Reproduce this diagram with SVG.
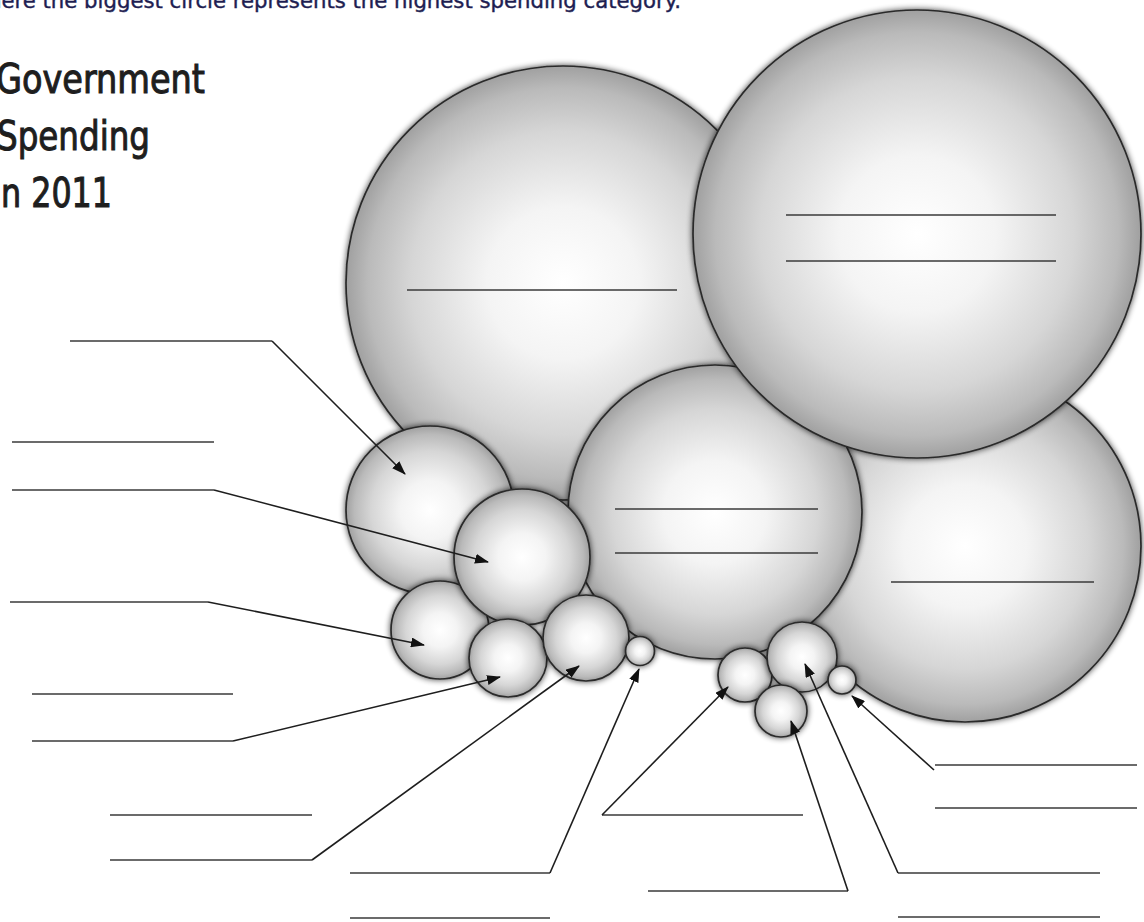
<svg xmlns="http://www.w3.org/2000/svg" width="1144" height="922" viewBox="0 0 1144 922">
<style>
.bub{fill:url(#g);stroke:#2a2a2a;stroke-width:1.7;filter:url(#sh)}
.slot{stroke:#3a3a3a;stroke-width:1.6;fill:none}
.con{stroke:#1e1e1e;stroke-width:1.6;fill:none;marker-end:url(#ah)}
.title{font-family:"DejaVu Sans Condensed","DejaVu Sans","Liberation Sans",sans-serif;font-stretch:condensed;font-size:41px;fill:#1e1e1e;stroke:#1e1e1e;stroke-width:1}
.top{font-family:"DejaVu Sans","Liberation Sans",sans-serif;font-size:21px;fill:#1e1e52;stroke:#1e1e52;stroke-width:0.4}
</style>
<defs>
<radialGradient id="g" cx="50%" cy="50%" r="50%">
<stop offset="0" stop-color="#ffffff"/>
<stop offset="0.35" stop-color="#f4f4f4"/>
<stop offset="0.7" stop-color="#d6d6d6"/>
<stop offset="0.9" stop-color="#bababa"/>
<stop offset="1" stop-color="#a0a0a0"/>
</radialGradient>
<filter id="sh" x="-30%" y="-30%" width="160%" height="160%">
<feGaussianBlur in="SourceAlpha" stdDeviation="3"/>
<feComponentTransfer><feFuncA type="linear" slope="0.75"/></feComponentTransfer>
<feMerge><feMergeNode/><feMergeNode in="SourceGraphic"/></feMerge>
</filter>
<marker id="ah" markerUnits="userSpaceOnUse" markerWidth="14" markerHeight="10" refX="13" refY="5" orient="auto">
<path d="M0,0 L14,5 L0,10 Z" fill="#111"/>
</marker>
</defs>
<rect width="1144" height="922" fill="#ffffff"/>
<text class="top" x="-12" y="8" textLength="693" lengthAdjust="spacingAndGlyphs">here the biggest circle represents the highest spending category.</text>
<g id="title">
<text class="title" x="-4" y="93" textLength="209" lengthAdjust="spacingAndGlyphs">Government</text>
<text class="title" x="-3" y="150" textLength="153" lengthAdjust="spacingAndGlyphs">Spending</text>
<text class="title" x="1" y="207" textLength="111" lengthAdjust="spacingAndGlyphs">n 2011</text>
</g>
<g id="circle-a"><circle class="bub" cx="563" cy="283" r="217"/><line class="slot" x1="407" y1="290" x2="677" y2="290"/></g>
<g id="circle-c"><circle class="bub" cx="965" cy="546" r="176"/><line class="slot" x1="891" y1="582" x2="1094" y2="582"/></g>
<g id="circle-d"><circle class="bub" cx="715" cy="512" r="147"/><line class="slot" x1="615" y1="509" x2="818" y2="509"/><line class="slot" x1="615" y1="553" x2="818" y2="553"/></g>
<g id="circle-b"><circle class="bub" cx="917" cy="234" r="224"/><line class="slot" x1="786" y1="215" x2="1056" y2="215"/><line class="slot" x1="786" y1="261" x2="1056" y2="261"/></g>
<g id="circle-e"><circle class="bub" cx="430" cy="510" r="84"/></g>
<g id="circle-g"><circle class="bub" cx="440" cy="630" r="49"/></g>
<g id="circle-f"><circle class="bub" cx="522" cy="557" r="68"/></g>
<g id="circle-h"><circle class="bub" cx="508" cy="658" r="39"/></g>
<g id="circle-i"><circle class="bub" cx="586" cy="638" r="43"/></g>
<g id="circle-j"><circle class="bub" cx="640" cy="651" r="14.5"/></g>
<g id="circle-k"><circle class="bub" cx="745" cy="675" r="27"/></g>
<g id="circle-l"><circle class="bub" cx="802" cy="657" r="35"/></g>
<g id="circle-m"><circle class="bub" cx="781" cy="711" r="26"/></g>
<g id="circle-n"><circle class="bub" cx="842" cy="680" r="14"/></g>
<g id="label-slots">
<line class="slot" x1="70" y1="341" x2="272" y2="341"/>
<line class="slot" x1="12" y1="442" x2="214" y2="442"/>
<line class="slot" x1="12" y1="490" x2="214" y2="490"/>
<line class="slot" x1="10" y1="602" x2="208" y2="602"/>
<line class="slot" x1="32" y1="694" x2="233" y2="694"/>
<line class="slot" x1="32" y1="741" x2="233" y2="741"/>
<line class="slot" x1="110" y1="815" x2="312" y2="815"/>
<line class="slot" x1="110" y1="860" x2="312" y2="860"/>
<line class="slot" x1="350" y1="873" x2="550" y2="873"/>
<line class="slot" x1="350" y1="918" x2="550" y2="918"/>
<line class="slot" x1="602" y1="815" x2="803" y2="815"/>
<line class="slot" x1="648" y1="891" x2="848" y2="891"/>
<line class="slot" x1="898" y1="873" x2="1100" y2="873"/>
<line class="slot" x1="898" y1="917" x2="1100" y2="917"/>
<line class="slot" x1="935" y1="765" x2="1137" y2="765"/>
<line class="slot" x1="935" y1="808" x2="1137" y2="808"/>
</g>
<g id="connectors">
<line class="con" x1="272" y1="341" x2="405" y2="474"/>
<line class="con" x1="214" y1="490" x2="488" y2="562"/>
<line class="con" x1="208" y1="602" x2="424" y2="645"/>
<line class="con" x1="233" y1="741" x2="500" y2="677"/>
<line class="con" x1="312" y1="860" x2="579" y2="666"/>
<line class="con" x1="550" y1="873" x2="639" y2="669"/>
<line class="con" x1="602" y1="815" x2="728" y2="687"/>
<line class="con" x1="848" y1="891" x2="791" y2="721"/>
<line class="con" x1="898" y1="873" x2="805" y2="664"/>
<line class="con" x1="934" y1="770" x2="852" y2="696"/>
</g>
</svg>
